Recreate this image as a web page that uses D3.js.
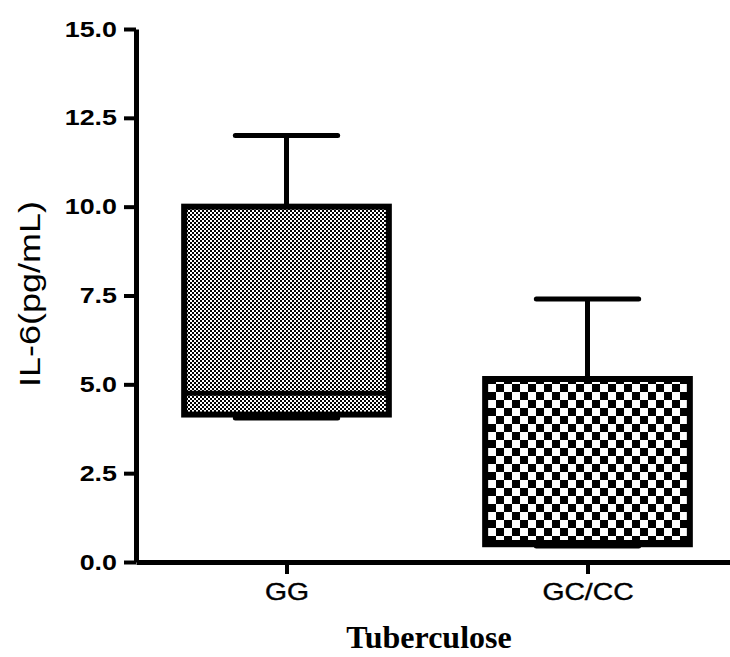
<!DOCTYPE html>
<html>
<head>
<meta charset="utf-8">
<script src="https://cdn.jsdelivr.net/npm/d3@7"></script>
<style>
  body { margin: 0; background: #fff; }
  svg { display: block; }
</style>
</head>
<body>
<div id="chart"></div>
<script>
// box plot data
var groups = ['GG', 'GC/CC'];
var min_vals = [4.05, 0.45];
var q1_vals = [4.15, 0.5];
var median_vals = [4.75, 0.55];
var q3_vals = [10.0, 5.15];
var max_vals = [12.0, 7.4];
var y_ticks = [0, 2.5, 5, 7.5, 10, 12.5, 15];

var chart_width = 730;
var chart_height = 657;

var boxes = groups.map(function(g, i) {
  return { name: g, min: min_vals[i], q1: q1_vals[i], med: median_vals[i], q3: q3_vals[i], max: max_vals[i] };
});

var svg = d3.select('#chart')
  .append('svg')
  .attr('width', chart_width)
  .attr('height', chart_height);

// patterns: fine checker for GG, coarse checker for GC/CC
var defs = svg.append('defs');
function checker(id, cell) {
  var p = defs.append('pattern')
    .attr('id', id)
    .attr('patternUnits', 'userSpaceOnUse')
    .attr('width', cell * 2)
    .attr('height', cell * 2);
  p.append('rect').attr('width', cell * 2).attr('height', cell * 2).attr('fill', '#fff');
  p.append('rect').attr('width', cell).attr('height', cell).attr('fill', '#000');
  p.append('rect').attr('x', cell).attr('y', cell).attr('width', cell).attr('height', cell).attr('fill', '#000');
}
checker('pat-fine', 2);
checker('pat-coarse', 8);
var fills = ['url(#pat-fine)', 'url(#pat-coarse)'];

// scales
var x_scale = d3.scalePoint()
  .domain(groups)
  .range([136, 738])
  .padding(0.5);

var y_scale = d3.scaleLinear()
  .domain([0, 15])
  .range([562, 29]);

var box_width = x_scale.step() * 0.68;
var cap_width = x_scale.step() * 0.34;

// boxes
var g_box = svg.append('g').attr('class', 'boxes');
var box = g_box.selectAll('g')
  .data(boxes)
  .enter()
  .append('g');

// whiskers
box.append('line')
  .attr('x1', function(d) { return x_scale(d.name); })
  .attr('x2', function(d) { return x_scale(d.name); })
  .attr('y1', function(d) { return y_scale(d.q3); })
  .attr('y2', function(d) { return y_scale(d.max); })
  .attr('stroke', '#000').attr('stroke-width', 5);
box.append('line')
  .attr('x1', function(d) { return x_scale(d.name); })
  .attr('x2', function(d) { return x_scale(d.name); })
  .attr('y1', function(d) { return y_scale(d.q1); })
  .attr('y2', function(d) { return y_scale(d.min); })
  .attr('stroke', '#000').attr('stroke-width', 5);

// caps
['max', 'min'].forEach(function(k) {
  box.append('line')
    .attr('x1', function(d) { return x_scale(d.name) - cap_width / 2; })
    .attr('x2', function(d) { return x_scale(d.name) + cap_width / 2; })
    .attr('y1', function(d) { return y_scale(d[k]); })
    .attr('y2', function(d) { return y_scale(d[k]); })
    .attr('stroke', '#000')
    .attr('stroke-width', 5)
    .attr('stroke-linecap', 'round');
});

box.append('rect')
  .attr('x', function(d) { return x_scale(d.name) - box_width / 2; })
  .attr('y', function(d) { return y_scale(d.q3); })
  .attr('width', box_width)
  .attr('height', function(d) { return y_scale(d.q1) - y_scale(d.q3); })
  .attr('fill', function(d, i) { return fills[i]; })
  .attr('stroke', '#000')
  .attr('stroke-width', 6);

// median
box.append('line')
  .attr('x1', function(d) { return x_scale(d.name) - box_width / 2; })
  .attr('x2', function(d) { return x_scale(d.name) + box_width / 2 + 2; })
  .attr('y1', function(d) { return y_scale(d.med); })
  .attr('y2', function(d) { return y_scale(d.med); })
  .attr('stroke', '#000')
  .attr('stroke-width', 5);

// axes
var y_axis = d3.axisLeft(y_scale)
  .tickValues(y_ticks)
  .tickFormat(d3.format('.1f'))
  .tickSize(12)
  .tickSizeOuter(0)
  .tickPadding(7);
var gy = svg.append('g')
  .attr('class', 'y-axis')
  .attr('transform', 'translate(136,0)')
  .call(y_axis);

var x_axis = d3.axisBottom(x_scale)
  .tickSize(12)
  .tickSizeOuter(0)
  .tickPadding(9);
var gx = svg.append('g')
  .attr('class', 'x-axis')
  .attr('transform', 'translate(0,562)')
  .call(x_axis);

[gy, gx].forEach(function(g) {
  g.select('.domain').attr('stroke-width', 5);
  g.selectAll('.tick line').attr('stroke-width', 4);
});

gy.selectAll('text')
  .attr('font-family', '"Liberation Sans", Arial, sans-serif')
  .attr('font-weight', 'bold')
  .attr('font-size', 22)
  .attr('fill', '#000');

gx.selectAll('text')
  .attr('font-family', '"Liberation Sans", Arial, sans-serif')
  .attr('font-size', 24)
  .attr('stroke', '#000')
  .attr('stroke-width', 0.4)
  .attr('fill', '#000');

// axis titles
var y_title = svg.append('text')
  .attr('transform', 'translate(40,294) rotate(-90)')
  .attr('text-anchor', 'middle')
  .attr('font-family', '"Liberation Sans", Arial, sans-serif')
  .attr('font-size', 30)
  .text('IL-6(pg/mL)');

svg.append('text')
  .attr('x', 429)
  .attr('y', 648)
  .attr('text-anchor', 'middle')
  .attr('font-family', '"Liberation Serif", "Times New Roman", serif')
  .attr('font-weight', 'bold')
  .attr('font-size', 32)
  .text('Tuberculose');

// the original lettering is a bit wider than Arial, stretch it
function stretch(sel, k) {
  sel.each(function() {
    var w = this.getComputedTextLength();
    d3.select(this)
      .attr('textLength', w * k)
      .attr('lengthAdjust', 'spacingAndGlyphs');
  });
}
stretch(gy.selectAll('text'), 1.22);
stretch(gx.selectAll('text'), 1.18);
stretch(y_title, 1.2);
</script>
</body>
</html>
